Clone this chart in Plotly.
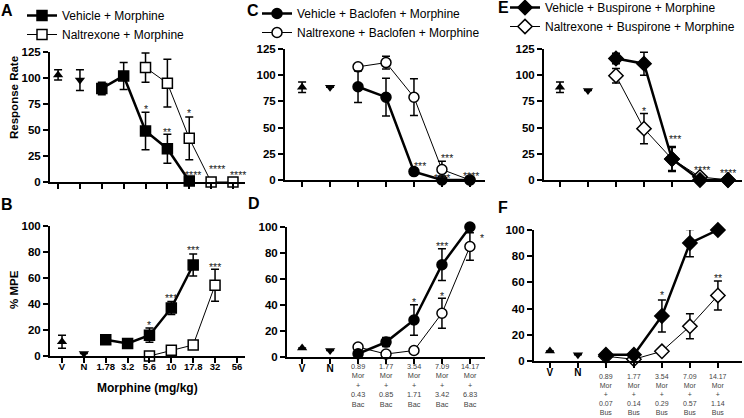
import plotly.graph_objects as go

FONT = "Liberation Sans, Arial, sans-serif"

# category axes
cats_ab = ["V", "N", "1.78", "3.2", "5.6", "10", "17.8", "32", "56"]
cats_cf = ["V", "N", "0.89", "1.77", "3.54", "7.09", "14.17"]
mor_doses = ["0.89", "1.77", "3.54", "7.09", "14.17"]
bac_doses = ["0.43", "0.85", "1.71", "3.42", "6.83"]
bus_doses = ["0.07", "0.14", "0.29", "0.57", "1.14"]

# A - response rate, morphine alone
a_ctrl_y = [103, 98]
a_ctrl_err = [5, 10]
a_veh_x = ["1.78", "3.2", "5.6", "10", "17.8"]
a_veh_y = [90, 102, 49, 32, 1]
a_veh_err = [6, 13, 18, 14, 0]
a_nal_x = ["5.6", "10", "17.8", "32", "56"]
a_nal_y = [110, 95, 42, 0, 0]
a_nal_err = [14, 23, 20.5, 0, 0]

# B - %MPE, morphine alone
b_ctrl_y = [11, 2]
b_ctrl_err = [5, 0]
b_veh_x = ["1.78", "3.2", "5.6", "10", "17.8"]
b_veh_y = [12.5, 9.7, 16, 37, 70]
b_veh_err = [2, 3, 5.5, 5, 8.5]
b_nal_x = ["5.6", "10", "17.8", "32"]
b_nal_y = [0, 4.5, 8.5, 54.5]
b_nal_err = [0, 2.5, 3, 12.3]

# C - response rate, baclofen + morphine
c_ctrl_y = [88.6, 88.6]
c_ctrl_err = [5, 0]
c_veh_y = [89, 79, 8, 0, 0]
c_veh_err = [15, 18, 3, 0, 0]
c_nal_y = [108, 112, 79, 10, 0]
c_nal_err = [0, 6, 17.5, 8, 0]

# D - %MPE, baclofen + morphine
d_ctrl_y = [7, 5]
d_veh_y = [2.5, 11.5, 28.5, 71, 100]
d_veh_err = [0, 3.5, 11.7, 12.2, 0]
d_nal_y = [7.7, 2.3, 5, 33.7, 85]
d_nal_err = [0, 0, 0, 11.5, 10.5]

# E - response rate, buspirone + morphine
e_ctrl_y = [88.6, 85.5]
e_ctrl_err = [5, 0]
e_veh_y = [116, 111, 20, 0, 0]
e_veh_err = [5, 11, 12, 0, 0]
e_nal_y = [99.5, 49, 20, 3, 0]
e_nal_err = [7, 14.5, 11, 0, 0]

# F - %MPE, buspirone + morphine
f_ctrl_y = [7.7, 4.8]
f_veh_y = [4.8, 4.8, 34.4, 90, 100]
f_veh_err = [0, 0, 12.2, 10.4, 0]
f_nal_y = [3.6, 1.3, 7.4, 26.5, 50]
f_nal_err = [0, 0, 0, 9.5, 11]

# significance marks: category, y, text, x shift (px)
a_stars = [("5.6", 73, "*", 0), ("10", 51, "**", 0), ("17.8", 69, "*", 0),
           ("17.8", 10, "****", 4), ("32", 15, "****", 6), ("56", 10, "****", 5)]
b_stars = [("5.6", 26, "*", 0), ("10", 47, "***", 0), ("17.8", 84, "***", 0),
           ("32", 71, "***", 0)]
c_stars = [("3.54", 16, "***", 6), ("7.09", 24, "***", 5), ("7.09", 5, "****", 0),
           ("14.17", 7, "****", 1)]
d_stars = [("3.54", 45, "*", 0), ("7.09", 88, "***", 0), ("7.09", 49.5, "*", 0),
           ("14.17", 106.5, "****", 0), ("14.17", 94, "*", 12)]
e_stars = [("1.77", 68.5, "*", 0), ("3.54", 41.5, "***", 3), ("7.09", 12.8, "****", 2),
           ("14.17", 9.6, "****", 0)]
f_stars = [("3.54", 52.3, "*", 0), ("7.09", 107, "***", 0), ("14.17", 108.4, "****", 0),
           ("14.17", 65.6, "**", 0)]

fig = go.Figure()


def series(x, y, err, symbol, fill, lw, ax, size=10, name=None, legend=None, rank=1):
    fig.add_trace(go.Scatter(
        x=x, y=y, mode="lines+markers", name=name,
        showlegend=name is not None, legend=legend, legendrank=rank,
        line=dict(color="black", width=lw),
        marker=dict(symbol=symbol, size=size, color=fill,
                    line=dict(color="black", width=1.5)),
        error_y=dict(type="data", array=err, visible=True, color="black",
                     thickness=1.5, width=4),
        xaxis="x" + ax, yaxis="y" + ax, cliponaxis=False))


def controls(y, err, ax):
    for i, sym in enumerate(["triangle-up", "triangle-down"]):
        fig.add_trace(go.Scatter(
            x=[cats_ab[i]], y=[y[i]], mode="markers", showlegend=False,
            marker=dict(symbol=sym, size=9, color="black"),
            error_y=dict(type="data", array=[err[i]], visible=True, color="black",
                         thickness=1.5, width=4),
            xaxis="x" + ax, yaxis="y" + ax, cliponaxis=False))


# naltrexone series go in first so the vehicle markers sit on top
# A
controls(a_ctrl_y, a_ctrl_err, "")
series(a_nal_x, a_nal_y, a_nal_err, "square", "white", 1, "",
       name="Naltrexone + Morphine", legend="legend", rank=2)
series(a_veh_x, a_veh_y, a_veh_err, "square", "black", 2.5, "",
       name="Vehicle + Morphine", legend="legend", rank=1)
# B
controls(b_ctrl_y, b_ctrl_err, "2")
series(b_nal_x, b_nal_y, b_nal_err, "square", "white", 1, "2")
series(b_veh_x, b_veh_y, b_veh_err, "square", "black", 2.5, "2")
# C
controls(c_ctrl_y, c_ctrl_err, "3")
series(mor_doses, c_nal_y, c_nal_err, "circle", "white", 1, "3",
       name="Naltrexone + Baclofen + Morphine", legend="legend2", rank=2)
series(mor_doses, c_veh_y, c_veh_err, "circle", "black", 2.5, "3",
       name="Vehicle + Baclofen + Morphine", legend="legend2", rank=1)
# D
controls(d_ctrl_y, [0, 0], "4")
series(mor_doses, d_nal_y, d_nal_err, "circle", "white", 1, "4")
series(mor_doses, d_veh_y, d_veh_err, "circle", "black", 2.5, "4")
# E
controls(e_ctrl_y, e_ctrl_err, "5")
series(mor_doses, e_nal_y, e_nal_err, "diamond", "white", 1, "5", size=11,
       name="Naltrexone + Buspirone + Morphine", legend="legend3", rank=2)
series(mor_doses, e_veh_y, e_veh_err, "diamond", "black", 2.5, "5", size=11,
       name="Vehicle + Buspirone + Morphine", legend="legend3", rank=1)
# F
controls(f_ctrl_y, [0, 0], "6")
series(mor_doses, f_nal_y, f_nal_err, "diamond", "white", 1, "6", size=11)
series(mor_doses, f_veh_y, f_veh_err, "diamond", "black", 2.5, "6", size=11)

axis_style = dict(showline=True, linecolor="black", linewidth=2, ticks="outside",
                  ticklen=5, tickwidth=2, tickcolor="black", showgrid=False,
                  zeroline=False, fixedrange=True)
ytick_font = dict(family=FONT, size=11.5, color="black", weight="bold")
vn_font = dict(family=FONT, size=10, color="black", weight="bold")
vn_text = ["V", "N", "", "", "", "", ""]

fig.update_layout(
    width=744, height=418,
    margin=dict(l=0, r=0, t=0, b=0, autoexpand=False),
    plot_bgcolor="white", paper_bgcolor="white",
    font=dict(family=FONT, color="black"),
    xaxis=dict(axis_style, domain=[0.0672, 0.3293], anchor="y", type="category",
               categoryorder="array", categoryarray=cats_ab, range=[-0.37, 8.55],
               tickvals=cats_ab, showticklabels=False),
    yaxis=dict(axis_style, domain=[0.5646, 0.8756], anchor="x", range=[0, 125],
               tickvals=[0, 25, 50, 75, 100, 125], tickfont=ytick_font),
    xaxis2=dict(axis_style, domain=[0.0672, 0.3293], anchor="y2", type="category",
                categoryorder="array", categoryarray=cats_ab, range=[-0.55, 8.37],
                tickvals=cats_ab, tickfont=dict(vn_font, size=9.5),
                ticklabelstandoff=-4),
    yaxis2=dict(axis_style, domain=[0.1483, 0.4593], anchor="x2", range=[0, 100],
                tickvals=[0, 20, 40, 60, 80, 100], tickfont=ytick_font),
    xaxis3=dict(axis_style, domain=[0.3831, 0.6519], anchor="y3", type="category",
                categoryorder="array", categoryarray=cats_cf, range=[-0.61, 6.54],
                tickvals=cats_cf, showticklabels=False),
    yaxis3=dict(axis_style, domain=[0.5694, 0.8828], anchor="x3", range=[0, 125],
                tickvals=[0, 25, 50, 75, 100, 125], tickfont=ytick_font),
    xaxis4=dict(axis_style, domain=[0.3858, 0.6519], anchor="y4", type="category",
                categoryorder="array", categoryarray=cats_cf, range=[-0.54, 6.54],
                tickvals=cats_cf, ticktext=vn_text, tickfont=vn_font,
                ticklabelstandoff=-4),
    yaxis4=dict(axis_style, domain=[0.1459, 0.4569], anchor="x4", range=[0, 100],
                tickvals=[0, 20, 40, 60, 80, 100], tickfont=ytick_font),
    xaxis5=dict(axis_style, domain=[0.7312, 0.9973], anchor="y5", type="category",
                categoryorder="array", categoryarray=cats_cf, range=[-0.57, 6.5],
                tickvals=cats_cf, showticklabels=False),
    yaxis5=dict(axis_style, domain=[0.5694, 0.8828], anchor="x5", range=[0, 125],
                tickvals=[0, 25, 50, 75, 100, 125], tickfont=ytick_font),
    xaxis6=dict(axis_style, domain=[0.7177, 0.9973], anchor="y6", type="category",
                categoryorder="array", categoryarray=cats_cf, range=[-0.57, 6.86],
                tickvals=cats_cf, ticktext=vn_text, tickfont=vn_font,
                ticklabelstandoff=-4),
    yaxis6=dict(axis_style, domain=[0.1364, 0.4498], anchor="x6", range=[0, 100],
                tickvals=[0, 20, 40, 60, 80, 100], tickfont=ytick_font),
)

leg = dict(font=dict(family=FONT, size=12), bgcolor="rgba(0,0,0,0)",
           itemwidth=30, tracegroupgap=0, xanchor="left", yanchor="top")
fig.update_layout(
    legend=dict(leg, x=22 / 744, y=1 - 1 / 418),
    legend2=dict(leg, x=257 / 744, y=1 + 1 / 418),
    legend3=dict(leg, x=505 / 744, y=1 + 7 / 418),
)

anns = []
# numeric-looking category names are read as numbers by annotations,
# so place these by category index
for stars, ax, cats in [(a_stars, "", cats_ab), (b_stars, "2", cats_ab),
                        (c_stars, "3", cats_cf), (d_stars, "4", cats_cf),
                        (e_stars, "5", cats_cf), (f_stars, "6", cats_cf)]:
    for cat, yv, txt, dx in stars:
        anns.append(dict(x=cats.index(cat), y=yv, text=txt, xref="x" + ax,
                         yref="y" + ax, xanchor="center", yanchor="middle",
                         xshift=dx, yshift=-3, showarrow=False,
                         font=dict(family=FONT, size=10.5, color="#222")))

# stacked combination-dose labels under D and F
for doses, drug, ax, ytop, fs in [(bac_doses, "Bac", "4", 360, 7.3),
                                  (bus_doses, "Bus", "6", 371, 7)]:
    for m, d in zip(mor_doses, doses):
        anns.append(dict(x=cats_cf.index(m), y=1 - ytop / 418, xref="x" + ax,
                         yref="paper", xanchor="center", yanchor="top",
                         showarrow=False, text=f"{m}<br>Mor<br>+<br>{d}<br>{drug}",
                         font=dict(family=FONT, size=fs, color="#444")))

for letter, px, py in [("A", 7, 10), ("B", 7, 205), ("C", 253, 10),
                       ("D", 254, 203), ("E", 504, 8), ("F", 503, 207)]:
    anns.append(dict(x=px / 744, y=1 - py / 418, xref="paper", yref="paper",
                     xanchor="center", yanchor="middle",
                     text=f"<b>{letter}</b>", showarrow=False,
                     font=dict(family=FONT, size=16, color="black")))

anns.append(dict(x=14 / 744, y=1 - 98 / 418, xref="paper", yref="paper",
                 xanchor="center", yanchor="middle",
                 text="<b>Response Rate</b>", textangle=-90, showarrow=False,
                 font=dict(family=FONT, size=11.5)))
anns.append(dict(x=14 / 744, y=1 - 290 / 418, xref="paper", yref="paper",
                 xanchor="center", yanchor="middle",
                 text="<b>% MPE</b>", textangle=-90, showarrow=False,
                 font=dict(family=FONT, size=11.5)))
anns.append(dict(x=147 / 744, y=1 - 388 / 418, xref="paper", yref="paper",
                 xanchor="center", yanchor="middle",
                 text="<b>Morphine (mg/kg)</b>", showarrow=False,
                 font=dict(family=FONT, size=12)))
fig.update_layout(annotations=anns)

# the page body has a default 8px margin; drop it so the figure fills the window
fig.write_html("out.html", config={"displayModeBar": False},
               post_script="document.body.style.margin='0';")
